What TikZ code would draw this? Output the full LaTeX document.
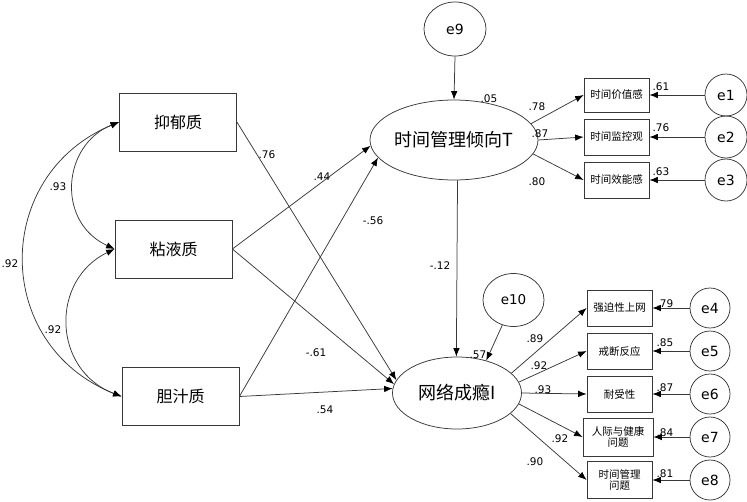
\documentclass[tikz,border=0pt]{standalone}
\usepackage{fontspec}
\setmainfont{DejaVu Sans}
\newfontfamily\cjk{Noto Sans CJK SC}
\usetikzlibrary{arrows.meta,shapes.geometric}
\tikzset{
  ln/.style={draw=black!78,line width=0.75pt},
  tip/.tip={Latex[length=8.5pt,width=6.5pt,color=black]},
  arr/.style={ln,-tip},
  arrb/.style={ln,tip-tip},
  bigbox/.style={ln,rectangle,minimum width=117pt,minimum height=58pt,inner sep=0pt,font=\cjk\fontsize{16}{18}\selectfont},
  ind/.style={ln,rectangle,minimum width=65pt,minimum height=36pt,inner sep=0pt,align=center,font=\cjk\fontsize{10.5}{11}\selectfont},
  lat/.style={ln,ellipse,inner sep=0pt,font=\cjk\fontsize{18}{20}\selectfont},
  err/.style={ln,ellipse,inner sep=0pt,font=\fontsize{14}{16}\selectfont},
  lab/.style={inner sep=0pt,font=\fontsize{10.5}{12}\selectfont},
}
\begin{document}
\begin{tikzpicture}[x=1pt,y=-1pt]
\useasboundingbox (0,0) rectangle (747,501);
% exogenous boxes
\node[bigbox] (A) at (178,122) {抑郁质};
\node[bigbox] (B) at (173.5,249) {粘液质};
\node[bigbox] (C) at (180.5,396.5) {胆汁质};
% latent
\node[lat,minimum width=128pt,minimum height=80pt] (T) at (454,140) {时间管理倾向T};
\node[lat,minimum width=129pt,minimum height=72pt] (I) at (457,393) {网络成瘾I};
\node[err,minimum width=62pt,minimum height=54pt] (e9) at (455,29) {e9};
\node[err,minimum width=61pt,minimum height=53pt,font=\fontsize{13.5}{15}\selectfont] (e10) at (513.5,300) {e10};
% T indicators
\node[ind,minimum height=34pt] (b1) at (616.5,95) {时间价值感};
\node[ind] (b2) at (616.5,137) {时间监控观};
\node[ind] (b3) at (616.5,180) {时间效能感};
\node[err,minimum size=42pt] (e1) at (726,95) {e1};
\node[err,minimum size=42pt] (e2) at (726,137) {e2};
\node[err,minimum size=42pt] (e3) at (726,180) {e3};
% I indicators
\node[ind] (c1) at (619.5,308) {强迫性上网};
\node[ind] (c2) at (619.5,351) {戒断反应};
\node[ind] (c3) at (619.5,394) {耐受性};
\node[ind,minimum width=70pt,minimum height=38pt] (c4) at (618,437) {人际与健康\\问题};
\node[ind,minimum height=37pt] (c5) at (619.5,480) {时间管理\\问题};
\node[err,minimum size=40pt] (e4) at (710,308) {e4};
\node[err,minimum size=40pt] (e5) at (710,351) {e5};
\node[err,minimum size=40pt] (e6) at (710,394) {e6};
\node[err,minimum size=40pt] (e7) at (710,437) {e7};
\node[err,minimum size=40pt] (e8) at (710,480) {e8};
% error arrows
\foreach \e/\b in {e1/b1,e2/b2,e3/b3,e4/c1,e5/c2,e6/c3,e7/c4,e8/c5}
  \draw[arr] (\e.west) -- (\b.east);
\draw[arr] (e9.south) -- (T.north);
\draw[arr] (e10.246) -- (I.48);
% measurement paths
\draw[arr] (T.12) -- (b1.west);
\draw[arr] (T.east) -- (b2.west);
\draw[arr] (T.-10) -- (b3.west);
\draw[arr] (I.20) -- (c1.west);
\draw[arr] (I.10) -- (c2.west);
\draw[arr] (I.east) -- (c3.west);
\draw[arr] (I.-10) -- (c4.west);
\draw[arr] (I.-21) -- (c5.west);
% structural
\draw[arr] (T.275) -- (I.91);
\draw[arr] (A.east) -- (I.168);
\draw[arr] (B.east) -- (T.184);
\draw[arr] (B.east) -- (I.172);
\draw[arr] (C.east) -- (T.193);
\draw[arr] (C.east) -- (I.176);
% covariances
\draw[arrb] (A.west) .. controls (62,145) and (56,222) .. (B.west);
\draw[arrb] (B.west) .. controls (50,280) and (52,370) .. (C.west);
\draw[arrb] (A.west) .. controls (-8,175) and (-8,345) .. (C.west);
% labels
\node[lab] (l1) at (58,187) {.93};
\node[lab] (l2) at (10,264) {.92};
\node[lab] (l3) at (53,330) {.92};
\node[lab] (l4) at (267,155) {.76};
\node[lab] (l5) at (322,177) {.44};
\node[lab] (l6) at (373,221) {-.56};
\node[lab] (l7) at (316,353) {-.61};
\node[lab] (l8) at (325,410) {.54};
\node[lab] (l9) at (440,266) {-.12};
\node[lab] (l10) at (489,99) {.05};
\node[lab] (l11) at (537,107) {.78};
\node[lab] (l12) at (540,134) {.87};
\node[lab] (l13) at (537,182) {.80};
\node[lab] (l14) at (661,87) {.61};
\node[lab] (l15) at (661,128) {.76};
\node[lab] (l16) at (661,172) {.63};
\node[lab] (l17) at (478,355) {.57};
\node[lab] (l18) at (535,339) {.89};
\node[lab] (l19) at (539,366) {.92};
\node[lab] (l20) at (543,390) {.93};
\node[lab] (l21) at (560,439) {.92};
\node[lab] (l22) at (535,462) {.90};
\node[lab] (l23) at (665,304) {.79};
\node[lab] (l24) at (665,343) {.85};
\node[lab] (l25) at (665,388) {.87};
\node[lab] (l26) at (665,433) {.84};
\node[lab] (l27) at (665,474) {.81};
\end{tikzpicture}
\end{document}
